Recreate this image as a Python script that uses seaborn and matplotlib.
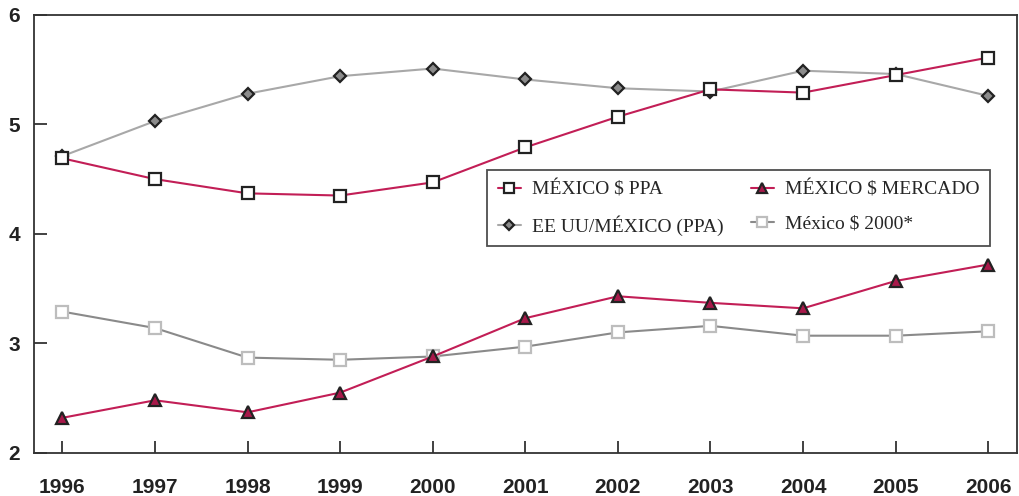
import matplotlib
matplotlib.use("Agg")
import matplotlib.pyplot as plt
import seaborn as sns
import pandas as pd

years = [1996, 1997, 1998, 1999, 2000, 2001, 2002, 2003, 2004, 2005, 2006]
mexico_ppa = [4.69, 4.50, 4.37, 4.35, 4.47, 4.79, 5.07, 5.32, 5.29, 5.45, 5.61]
mexico_mercado = [2.32, 2.48, 2.37, 2.55, 2.88, 3.23, 3.43, 3.37, 3.32, 3.57, 3.72]
eeuu_mexico_ppa = [4.71, 5.03, 5.28, 5.44, 5.51, 5.41, 5.33, 5.30, 5.49, 5.46, 5.26]
mexico_2000 = [3.29, 3.14, 2.87, 2.85, 2.88, 2.97, 3.10, 3.16, 3.07, 3.07, 3.11]

series_names = ["MÉXICO $ PPA", "MÉXICO $ MERCADO",
                "EE UU/MÉXICO (PPA)", "México $ 2000*"]
y_ticks = [2, 3, 4, 5, 6]

crimson = "#C21E56"
styles = {
    "MÉXICO $ PPA": dict(color=crimson, marker="s", mfc="white", mec="#222222", ms=8),
    "MÉXICO $ MERCADO": dict(color=crimson, marker="^", mfc="#A8194A", mec="#222222", ms=9),
    "EE UU/MÉXICO (PPA)": dict(color="#A8A8A8", marker="D", mfc="#8C8C8C", mec="#222222", ms=6.5),
    "México $ 2000*": dict(color="#8A8A8A", marker="s", mfc="white", mec="#BDBDBD", ms=8),
}

df = pd.DataFrame({
    "year": years * 4,
    "value": mexico_ppa + mexico_mercado + eeuu_mexico_ppa + mexico_2000,
    "serie": sum([[n] * len(years) for n in series_names], []),
})

sns.set_style("white")
fig, ax = plt.subplots(figsize=(10.2, 4.96), dpi=100)
fig.subplots_adjust(left=0.033, right=0.997, top=0.97, bottom=0.087)

# draw order: gray series first, crimson on top
for name in ["México $ 2000*", "EE UU/MÉXICO (PPA)", "MÉXICO $ MERCADO", "MÉXICO $ PPA"]:
    st = styles[name]
    sub = df[df["serie"] == name]
    sns.lineplot(data=sub, x="year", y="value", ax=ax, color=st["color"],
                 linewidth=1.5, marker=st["marker"], markersize=st["ms"],
                 markerfacecolor=st["mfc"], markeredgecolor=st["mec"],
                 markeredgewidth=1.6, label=name)

ax.set_xlim(1995.69, 2006.31)
ax.set_ylim(2, 6)
ax.set_xticks(years)
ax.set_yticks(y_ticks)
ax.set_xlabel("")
ax.set_ylabel("")
for sp in ax.spines.values():
    sp.set_visible(True)
    sp.set_color("#333333")
    sp.set_linewidth(1.3)
ax.tick_params(axis="both", direction="in", length=9, width=1.3, color="#333333",
               labelsize=15, bottom=True, left=True)
ax.tick_params(axis="x", pad=18)
ax.tick_params(axis="y", pad=10)
for lab in ax.get_xticklabels() + ax.get_yticklabels():
    lab.set_fontweight("bold")
    lab.set_fontfamily("Liberation Sans")
    lab.set_color("#222222")

# two columns; matplotlib fills column-wise
handles, labels = ax.get_legend_handles_labels()
legend_order = ["MÉXICO $ PPA", "EE UU/MÉXICO (PPA)", "MÉXICO $ MERCADO", "México $ 2000*"]
idx = [labels.index(n) for n in legend_order]
leg = ax.legend([handles[i] for i in idx], [labels[i] for i in idx],
                ncol=2, loc="upper left", bbox_to_anchor=(0.461, 0.646),
                borderaxespad=0,
                frameon=True, fancybox=False, edgecolor="#222222",
                prop={"family": "Liberation Serif", "size": 14},
                handlelength=1.2, handletextpad=0.55, columnspacing=1.4,
                borderpad=0.55, labelspacing=0.85, markerscale=0.85)
leg.get_frame().set_linewidth(1.3)

fig.savefig("out.png", dpi=100)
